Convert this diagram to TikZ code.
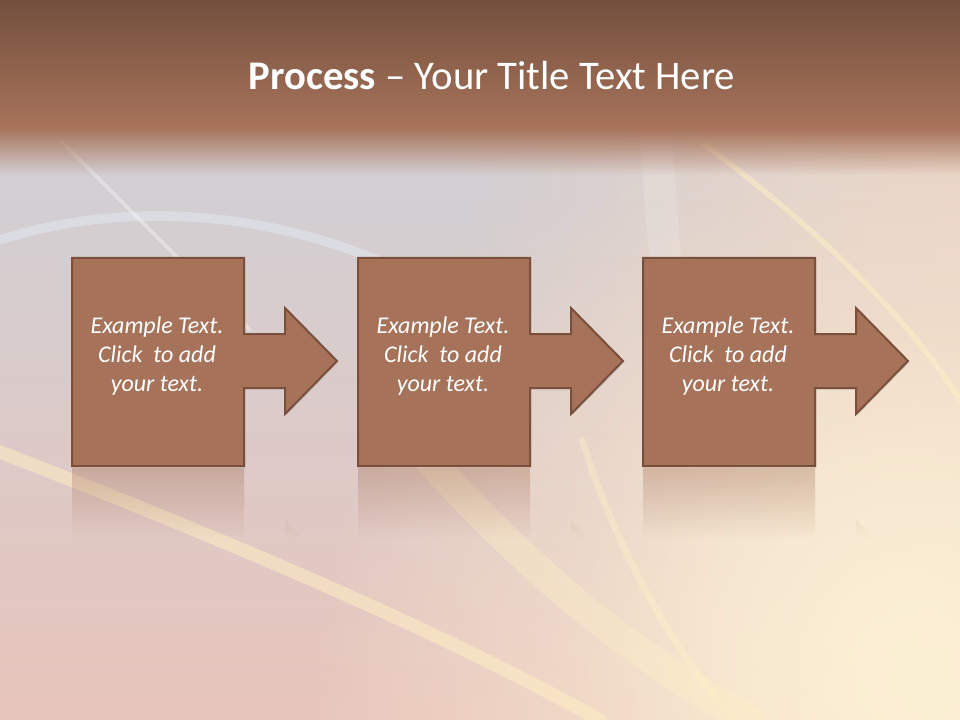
\documentclass[tikz,border=0pt]{standalone}
\usepackage{fontspec}
\setmainfont{Carlito}
\usetikzlibrary{positioning,calc,backgrounds,fadings,shadows}

\definecolor{stepfill}{RGB}{166,114,89}
\definecolor{stepline}{RGB}{122,79,60}
\definecolor{titletop}{RGB}{116,80,62}
\definecolor{titlebot}{RGB}{167,115,90}
\definecolor{bggray}{RGB}{211,207,211}
\definecolor{bgpink}{RGB}{233,198,188}
\definecolor{bgpeach}{RGB}{232,210,198}
\definecolor{bgcream}{RGB}{252,240,213}
\definecolor{swblue}{RGB}{225,235,242}
\definecolor{swyellow}{RGB}{255,241,196}

\tikzfading[name=fadeup, top color=transparent!100, bottom color=transparent!0]
\tikzfading[name=fadedown, top color=transparent!0, bottom color=transparent!100]
\tikzfading[name=fadeleft, left color=transparent!100, right color=transparent!0]
\tikzfading[name=glow, inner color=transparent!0, outer color=transparent!100]
\begin{tikzfadingfrompicture}[name=reflfade]
  \fill[transparent!100] (-50bp,-50bp) rectangle (50bp,50bp);
  \shade[top color=transparent!10, bottom color=transparent!100] (-50bp,8bp) rectangle (50bp,50bp);
\end{tikzfadingfrompicture}

\begin{document}
\begin{tikzpicture}[
    x=0.75pt, y=-0.75pt,
    stepnode/.style={inner sep=0pt, align=center, text=white, font=\fontsize{18}{21.75}\selectfont\itshape},
    stepshape/.style={fill=stepfill, draw=stepline, line width=1.5pt, line join=miter,
      drop shadow={opacity=0.25, shadow xshift=1pt, shadow yshift=-1pt}},
    stepmirror/.style={fill=stepfill, path fading=reflfade},
    titletext/.style={text=white, font=\fontsize{30.5}{34}\selectfont},
    swoosh/.style={line cap=round, opacity=0.5},
]
\useasboundingbox (0,0) rectangle (960,720);

\node[titletext] (title) at (492,76) {\textbf{Process} – Your Title Text Here};

\node[stepnode] (step1) at (157,356) {Example Text.\\Click~ to add\\your text.};
\node[stepnode] (step2) at (443,356) {Example Text.\\Click~ to add\\your text.};
\node[stepnode] (step3) at (728,356) {Example Text.\\Click~ to add\\your text.};

\begin{scope}[on background layer]
  % backdrop
  \fill[bggray] (0,0) rectangle (960,720);
  \fill[bgpeach, path fading=fadeleft] (450,120) rectangle (960,480);
  \fill[bgpink, path fading=fadeup] (0,200) rectangle (960,720);
  \fill[bgcream, path fading=glow] (930,690) circle (620);
  \fill[bgcream, path fading=glow, opacity=0.8] (900,640) circle (330);
  % swooshes
  \draw[swoosh, swblue, line width=7] (0,240) .. controls (140,195) and (300,215) .. (430,285);
  \draw[swoosh, white, line width=2.5, opacity=0.35] (60,140) -- (250,330);
  \draw[swoosh, swyellow, line width=4] (705,145) .. controls (820,230) and (910,320) .. (960,400);
  \draw[swoosh, swyellow, line width=10] (0,452) .. controls (200,530) and (420,620) .. (600,720);
  \draw[swoosh, swyellow, line width=22, opacity=0.35] (429,460) .. controls (520,560) and (620,650) .. (750,720);
  \draw[swoosh, swyellow, line width=5, opacity=0.4] (582,440) .. controls (620,560) and (680,660) .. (735,720);
  \draw[swoosh, white, line width=24, opacity=0.15] (655,130) -- (670,320);
  % title band
  \shade[top color=titletop, bottom color=titlebot] (0,0) rectangle (960,128);
  \fill[titlebot, path fading=fadedown] (0,128) rectangle (960,175);
  % steps and their reflections
  \foreach \i in {1,2,3} {
    \fill[stepmirror] ($(step\i.center)+(-85,112)$) -- ++(172,0) -- ++(0,78) -- ++(41,0) -- ++(0,-26)
      -- ++(52,53) -- ++(-52,53) -- ++(0,-26) -- ++(-41,0) -- ++(0,76) -- ++(-172,0) -- cycle;
    \draw[stepshape] ($(step\i.center)+(-85,-98)$) -- ++(172,0) -- ++(0,76) -- ++(41,0) -- ++(0,-26)
      -- ++(52,53) -- ++(-52,53) -- ++(0,-26) -- ++(-41,0) -- ++(0,78) -- ++(-172,0) -- cycle;
  }
\end{scope}
\end{tikzpicture}
\end{document}
